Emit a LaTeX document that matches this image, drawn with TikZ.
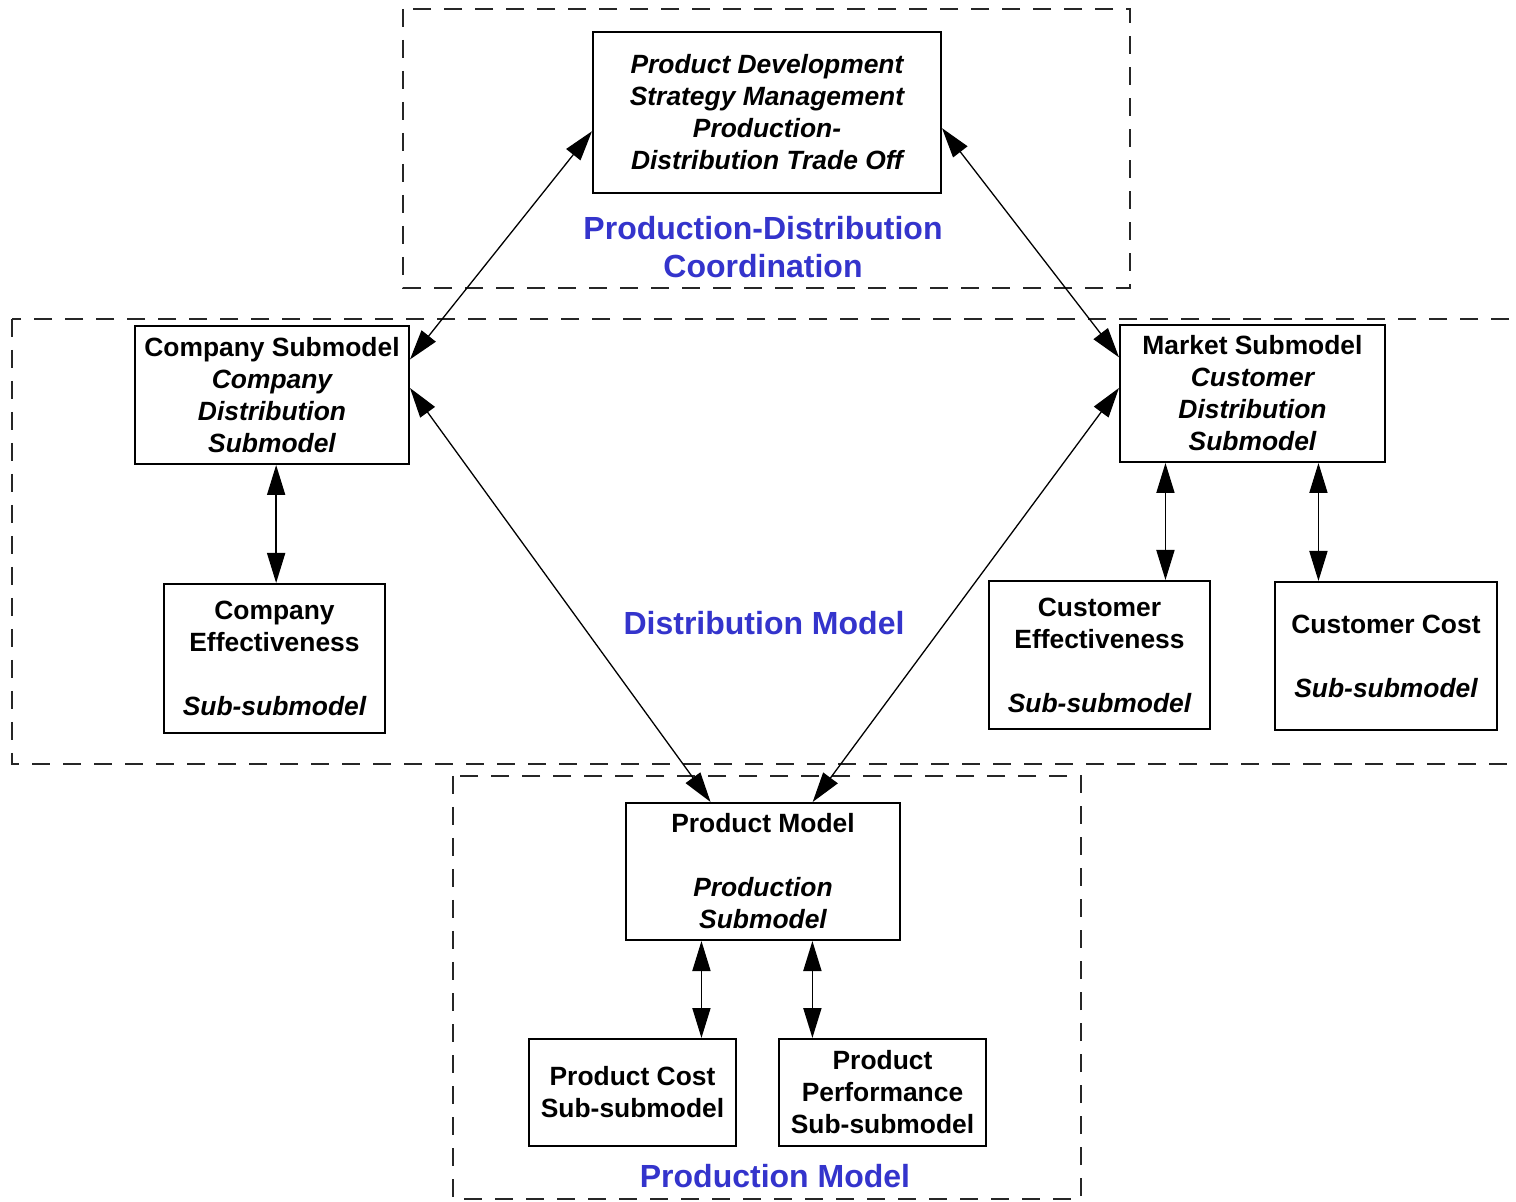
\documentclass[tikz,border=0pt]{standalone}
\usepackage{fontspec}
\setmainfont{Liberation Sans}
\usetikzlibrary{arrows.meta,calc}
\definecolor{labelblue}{RGB}{52,52,204}
\begin{document}
\begin{tikzpicture}[x=0.5pt,y=-0.5pt,
  box/.style={draw,line width=1pt,inner sep=0pt,align=center,
    font=\fontsize{13.2}{16}\selectfont\bfseries},
  region/.style={draw=black!85,line width=0.55pt,dash pattern=on 9pt off 6.5pt},
  label/.style={text=labelblue,align=center,inner sep=0pt,
    font=\fontsize{16}{19}\selectfont\bfseries},
  link/.style={line width=0.65pt,{Triangle[length=15pt,width=9pt]}-{Triangle[length=15pt,width=9pt]}},
  vlink/.style={link,line width=0.9pt}]
\clip (0,0) rectangle (1516,1202);
\fill[white] (0,0) rectangle (1516,1202);

% dashed model regions
\draw[region] (403,9) rectangle (1130,288);
\draw[region] (12,319) rectangle (1540,764);
\draw[region] (453,776) rectangle (1081,1199);

% coordination box
\node[box,minimum width=174pt,minimum height=80.5pt] (top) at (767,112.5)
  {\itshape Product Development\\\itshape Strategy Management\\\itshape Production-\\\itshape Distribution Trade Off};

% distribution model boxes
\node[box,minimum width=137pt,minimum height=69pt] (comp) at (272,395)
  {Company Submodel\\\itshape Company\\\itshape Distribution\\\itshape Submodel};
\node[box,minimum width=110.5pt,minimum height=74.5pt] (ceff) at (274.5,658.5)
  {Company\\Effectiveness\\[16pt]\itshape Sub-submodel};
\node[box,minimum width=132.5pt,minimum height=68.5pt] (mkt) at (1252.5,393.5)
  {Market Submodel\\\itshape Customer\\\itshape Distribution\\\itshape Submodel};
\node[box,minimum width=110.5pt,minimum height=74pt] (cueff) at (1099.5,655)
  {Customer\\Effectiveness\\[16pt]\itshape Sub-submodel};
\node[box,minimum width=111pt,minimum height=74pt] (ccost) at (1386,656)
  {Customer Cost\\[16pt]\itshape Sub-submodel};

% production model boxes
\node[box,minimum width=137pt,minimum height=68.5pt] (prod) at (763,871.5)
  {Product Model\\[16pt]\itshape Production\\\itshape Submodel};
\node[box,minimum width=103.5pt,minimum height=53.5pt] (pcost) at (632.5,1092.5)
  {Product Cost\\Sub-submodel};
\node[box,minimum width=103.5pt,minimum height=53.5pt] (perf) at (882.5,1092.5)
  {Product\\Performance\\Sub-submodel};

% region labels
\node[label] (lcoord) at (763,247) {Production-Distribution\\Coordination};
\node[label] (ldist) at (764,623) {Distribution Model};
\node[label] (lprod) at (775,1176) {Production Model};

% attachment points on the boxes
\coordinate (topL) at ($(top.north west)!0.615!(top.south west)$);
\coordinate (topR) at ($(top.north east)!0.596!(top.south east)$);
\coordinate (compA) at ($(comp.north east)!0.246!(comp.south east)$);
\coordinate (compB) at ($(comp.north east)!0.45!(comp.south east)$);
\coordinate (mktA) at ($(mkt.north west)!0.24!(mkt.south west)$);
\coordinate (mktB) at ($(mkt.north west)!0.46!(mkt.south west)$);
\coordinate (prodA) at ($(prod.north west)!0.31!(prod.north east)$);
\coordinate (prodB) at ($(prod.north west)!0.68!(prod.north east)$);
\coordinate (compS) at ($(comp.south west)!0.515!(comp.south east)$);
\coordinate (mktS1) at ($(mkt.south west)!0.174!(mkt.south east)$);
\coordinate (mktS2) at ($(mkt.south west)!0.747!(mkt.south east)$);
\coordinate (prodS1) at ($(prod.south west)!0.277!(prod.south east)$);
\coordinate (prodS2) at ($(prod.south west)!0.679!(prod.south east)$);

% connectors
\draw[link] (topL) -- (compA);
\draw[link] (topR) -- (mktA);
\draw[link] (compB) -- (prodA);
\draw[link] (mktB) -- (prodB);
\draw[vlink] (compS) -- (compS |- ceff.north);
\draw[vlink] (mktS1) -- (mktS1 |- cueff.north);
\draw[vlink] (mktS2) -- (mktS2 |- ccost.north);
\draw[vlink] (prodS1) -- (prodS1 |- pcost.north);
\draw[vlink] (prodS2) -- (prodS2 |- perf.north);
\end{tikzpicture}
\end{document}
